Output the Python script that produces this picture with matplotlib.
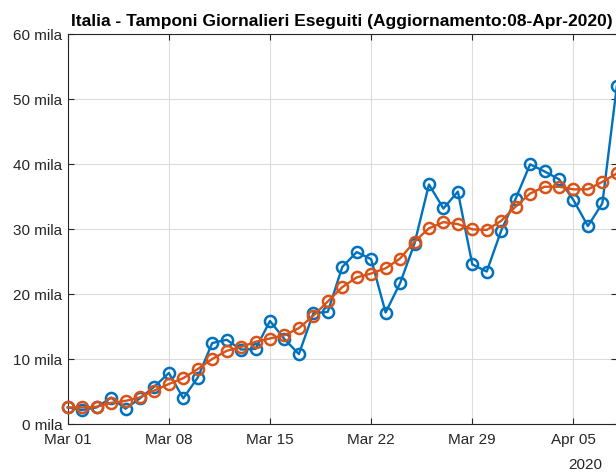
import matplotlib
matplotlib.use("Agg")
import matplotlib.pyplot as plt
import pandas as pd

plt.rcParams['font.family'] = ['Liberation Sans', 'DejaVu Sans']

dates = pd.date_range("2020-03-01", "2020-04-08", freq="D")
daily = [2.6, 2.2, 2.6, 4.1, 2.4, 4.0, 5.8, 7.9, 4.0, 7.2,
         12.5, 13.0, 11.5, 11.6, 15.9, 13.1, 10.8, 17.1, 17.3, 24.2,
         26.5, 25.4, 17.2, 21.7, 27.8, 36.9, 33.2, 35.8, 24.6, 23.5,
         29.8, 34.7, 40.0, 38.9, 37.7, 34.5, 30.5, 34.0, 52.0]
avg = [2.6, 2.6, 2.7, 3.3, 3.6, 4.15, 5.2, 6.2, 7.1, 8.5,
       10.05, 11.3, 11.9, 12.7, 13.2, 13.7, 14.8, 16.7, 18.9, 21.1,
       22.6, 23.2, 24.0, 25.5, 28.1, 30.15, 31.1, 30.8, 30.0, 29.9,
       31.3, 33.5, 35.5, 36.55, 36.55, 36.15, 36.15, 37.3, 38.6]
yticks = [0, 10, 20, 30, 40, 50, 60]
ytick_labels = [f"{v} mila" for v in yticks]
xtick_dates = ["2020-03-01", "2020-03-08", "2020-03-15",
               "2020-03-22", "2020-03-29", "2020-04-05"]
title = "Italia - Tamponi Giornalieri Eseguiti (Aggiornamento:08-Apr-2020)"

W, H = 616, 473
fig = plt.figure(figsize=(W / 100, H / 100), dpi=100)
ax = fig.add_axes([67.7 / W, 1 - 424.3 / H, (616.8 - 67.7) / W, (424.3 - 34.3) / H])

blue = "#0072BD"
orange = "#D95319"
ax.plot(dates, daily, color=blue, lw=1.7, marker='o', ms=8, mfc='none',
        mec=blue, mew=1.8, clip_on=False, zorder=3)
ax.plot(dates, avg, color=orange, lw=1.7, marker='o', ms=8, mfc='none',
        mec=orange, mew=1.8, clip_on=False, zorder=4)

ax.set_xlim(dates[0], dates[-1])
ax.set_ylim(0, 60)
ax.set_yticks(yticks)
ax.set_yticklabels(ytick_labels)
xt = [pd.Timestamp(d) for d in xtick_dates]
ax.set_xticks(xt)
ax.set_xticklabels([d.strftime("%b %d") for d in xt])

ax.grid(True, color="#dcdcdc", lw=0.8)
ax.set_axisbelow(True)
for s in ax.spines.values():
    s.set_color("#262626")
    s.set_linewidth(0.8)
ax.tick_params(direction='in', length=4, width=0.8, colors="#262626",
               labelsize=11, top=True, right=True)
ax.tick_params(axis='x', pad=6)
ax.tick_params(axis='y', pad=4)

ax.set_title(title, fontsize=12.5, fontweight='bold', pad=6, color="black")
fig.text(602 / W, 1 - 465 / H, "2020", ha='right', va='center',
         fontsize=11, color="#262626")

fig.savefig("out.png", dpi=100)
